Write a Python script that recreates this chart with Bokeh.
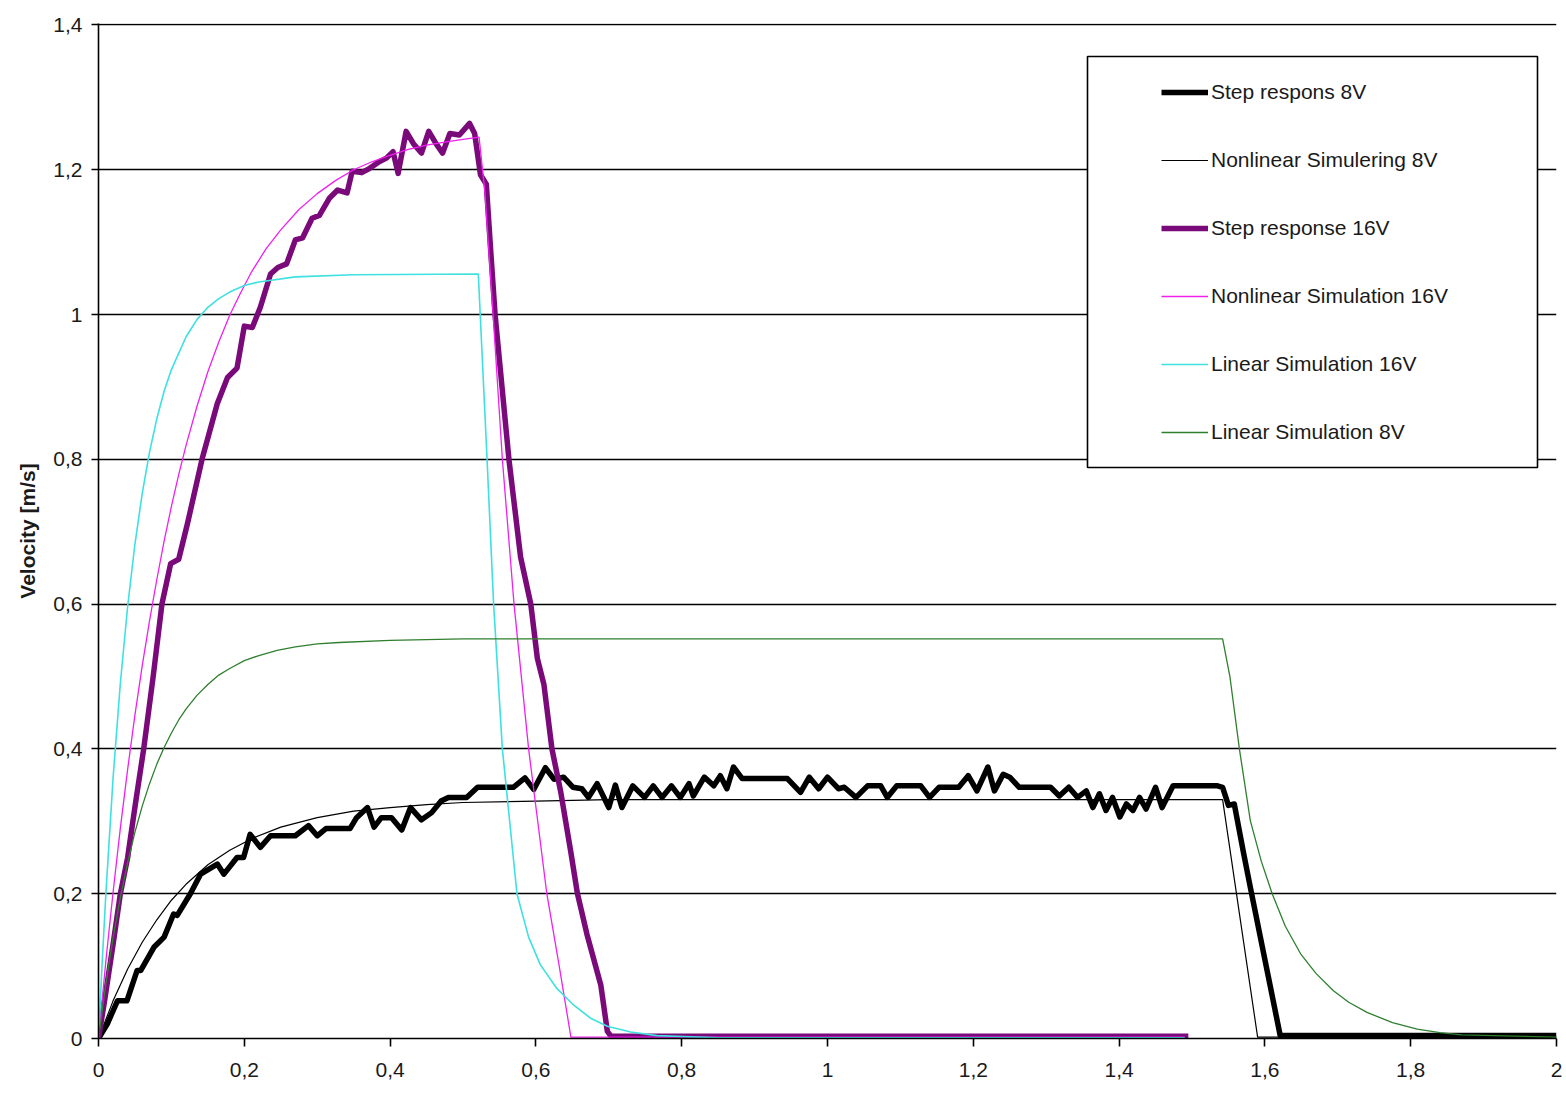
from bokeh.plotting import figure
from bokeh.models import (Legend, LegendItem, FixedTicker, BoxAnnotation, Range1d,
                          CustomJSTickFormatter)
from bokeh.embed import file_html
from bokeh.resources import INLINE

# ---------------- data (time [s], velocity [m/s]) ----------------
step_8v = [(0, 0), (0.012, 0.020), (0.026, 0.052), (0.039, 0.052), (0.053, 0.094), (0.058, 0.094),
           (0.076, 0.126), (0.090, 0.140), (0.103, 0.172), (0.108, 0.170), (0.126, 0.200),
           (0.140, 0.227), (0.148, 0.232), (0.163, 0.241), (0.172, 0.227), (0.190, 0.250),
           (0.199, 0.250), (0.208, 0.282), (0.222, 0.264), (0.236, 0.280), (0.270, 0.280),
           (0.288, 0.294), (0.300, 0.280), (0.312, 0.290), (0.345, 0.290), (0.354, 0.305),
           (0.369, 0.319), (0.378, 0.292), (0.388, 0.305), (0.402, 0.305), (0.416, 0.288),
           (0.428, 0.319), (0.443, 0.302), (0.457, 0.312), (0.470, 0.328), (0.480, 0.333),
           (0.505, 0.333), (0.520, 0.347), (0.569, 0.347), (0.585, 0.360), (0.597, 0.344),
           (0.613, 0.374), (0.625, 0.358), (0.638, 0.361), (0.651, 0.347), (0.663, 0.345),
           (0.672, 0.333), (0.684, 0.352), (0.700, 0.319), (0.709, 0.350), (0.718, 0.319),
           (0.733, 0.349), (0.749, 0.333), (0.761, 0.349), (0.773, 0.333), (0.786, 0.349),
           (0.798, 0.333), (0.810, 0.352), (0.816, 0.335), (0.831, 0.361), (0.844, 0.349),
           (0.853, 0.363), (0.862, 0.345), (0.871, 0.375), (0.883, 0.359), (0.945, 0.359),
           (0.963, 0.340), (0.975, 0.361), (0.988, 0.345), (1.000, 0.361), (1.015, 0.345),
           (1.023, 0.347), (1.039, 0.333), (1.055, 0.349), (1.073, 0.349), (1.082, 0.333),
           (1.095, 0.349), (1.128, 0.349), (1.140, 0.333), (1.153, 0.347), (1.180, 0.347),
           (1.193, 0.363), (1.205, 0.342), (1.220, 0.375), (1.229, 0.342), (1.241, 0.365),
           (1.250, 0.361), (1.263, 0.347), (1.306, 0.347), (1.318, 0.335), (1.331, 0.347),
           (1.343, 0.333), (1.355, 0.342), (1.364, 0.319), (1.373, 0.338), (1.382, 0.315),
           (1.391, 0.333), (1.401, 0.306), (1.410, 0.324), (1.419, 0.315), (1.428, 0.333),
           (1.437, 0.317), (1.450, 0.347), (1.459, 0.319), (1.474, 0.349), (1.535, 0.349),
           (1.542, 0.347), (1.550, 0.322), (1.558, 0.324), (1.571, 0.255), (1.580, 0.209),
           (1.603, 0.094), (1.621, 0.004), (2.000, 0.004)]

nonlin_8v = [(0, 0), (0.02, 0.052), (0.04, 0.096), (0.06, 0.133), (0.08, 0.164), (0.10, 0.191),
             (0.12, 0.213), (0.15, 0.240), (0.18, 0.260), (0.21, 0.276), (0.25, 0.292),
             (0.30, 0.305), (0.35, 0.314), (0.40, 0.319), (0.45, 0.323), (0.50, 0.326),
             (0.60, 0.328), (0.70, 0.330), (1.542, 0.330), (1.590, 0.002), (2.000, 0.002)]

step_16v = [(0, 0), (0.008, 0.050), (0.020, 0.130), (0.030, 0.200), (0.040, 0.250), (0.050, 0.320),
            (0.062, 0.400), (0.075, 0.500), (0.087, 0.600), (0.099, 0.656), (0.110, 0.662),
            (0.122, 0.711), (0.142, 0.800), (0.163, 0.877), (0.177, 0.913), (0.190, 0.926),
            (0.200, 0.984), (0.211, 0.982), (0.222, 1.010), (0.236, 1.056), (0.246, 1.065),
            (0.258, 1.070), (0.270, 1.103), (0.280, 1.106), (0.293, 1.133), (0.303, 1.137),
            (0.317, 1.161), (0.328, 1.172), (0.341, 1.168), (0.348, 1.198), (0.361, 1.196),
            (0.372, 1.202), (0.385, 1.211), (0.395, 1.216), (0.404, 1.225), (0.411, 1.195),
            (0.422, 1.253), (0.432, 1.236), (0.443, 1.223), (0.453, 1.253), (0.463, 1.236),
            (0.472, 1.223), (0.482, 1.250), (0.495, 1.248), (0.509, 1.264), (0.516, 1.250),
            (0.524, 1.193), (0.532, 1.180), (0.538, 1.088), (0.544, 1.000), (0.563, 0.800),
            (0.579, 0.665), (0.593, 0.600), (0.602, 0.525), (0.611, 0.489), (0.622, 0.400),
            (0.634, 0.341), (0.648, 0.257), (0.657, 0.200), (0.670, 0.144), (0.689, 0.074),
            (0.698, 0.010), (0.703, 0.003), (1.495, 0.003)]

nonlin_16v = [(0, 0), (0.01, 0.106), (0.02, 0.202), (0.03, 0.291), (0.04, 0.372), (0.05, 0.447),
              (0.06, 0.515), (0.07, 0.577), (0.08, 0.634), (0.09, 0.687), (0.10, 0.735),
              (0.11, 0.779), (0.12, 0.819), (0.135, 0.873), (0.15, 0.921), (0.165, 0.962),
              (0.18, 0.999), (0.195, 1.030), (0.21, 1.059), (0.23, 1.091), (0.25, 1.117),
              (0.275, 1.145), (0.30, 1.167), (0.325, 1.185), (0.35, 1.200), (0.375, 1.211),
              (0.40, 1.220), (0.425, 1.228), (0.45, 1.234), (0.475, 1.238), (0.50, 1.242),
              (0.522, 1.245), (0.530, 1.170), (0.540, 1.020), (0.554, 0.800), (0.570, 0.600),
              (0.590, 0.400), (0.615, 0.200), (0.632, 0.100), (0.648, 0.002), (1.490, 0.002)]

lin_16v = [(0, 0), (0.005, 0.104), (0.01, 0.198), (0.02, 0.360), (0.03, 0.491), (0.04, 0.597),
           (0.05, 0.683), (0.06, 0.753), (0.07, 0.810), (0.08, 0.856), (0.09, 0.894),
           (0.10, 0.924), (0.12, 0.969), (0.135, 0.993), (0.15, 1.010), (0.165, 1.022),
           (0.18, 1.031), (0.20, 1.040), (0.22, 1.045), (0.27, 1.052), (0.35, 1.055),
           (0.521, 1.056), (0.533, 0.800), (0.542, 0.600), (0.554, 0.400), (0.574, 0.200),
           (0.590, 0.140), (0.606, 0.102), (0.628, 0.070), (0.652, 0.046), (0.675, 0.028),
           (0.698, 0.017), (0.730, 0.009), (0.766, 0.004), (0.850, 0.001), (1.490, 0.001)]

lin_8v = [(0, 0), (0.01, 0.075), (0.02, 0.139), (0.03, 0.195), (0.04, 0.243), (0.05, 0.285),
          (0.06, 0.321), (0.07, 0.352), (0.08, 0.379), (0.09, 0.402), (0.10, 0.422),
          (0.11, 0.440), (0.12, 0.455), (0.135, 0.474), (0.15, 0.489), (0.165, 0.502),
          (0.18, 0.511), (0.20, 0.522), (0.22, 0.529), (0.245, 0.536), (0.27, 0.541),
          (0.30, 0.545), (0.33, 0.547), (0.40, 0.550), (0.50, 0.552), (1.542, 0.552),
          (1.552, 0.500), (1.565, 0.400), (1.580, 0.301), (1.595, 0.245), (1.610, 0.200),
          (1.628, 0.155), (1.649, 0.117), (1.670, 0.090), (1.694, 0.066), (1.715, 0.050),
          (1.740, 0.036), (1.775, 0.022), (1.809, 0.013), (1.840, 0.008), (1.870, 0.005),
          (2.000, 0.002)]

series_names = ["Step respons 8V", "Nonlinear Simulering 8V", "Step response 16V",
                "Nonlinear Simulation 16V", "Linear Simulation 16V", "Linear Simulation 8V"]

x_ticks = [0, 0.2, 0.4, 0.6, 0.8, 1.0, 1.2, 1.4, 1.6, 1.8, 2.0]
x_tick_labels = ["0", "0,2", "0,4", "0,6", "0,8", "1", "1,2", "1,4", "1,6", "1,8", "2"]
y_ticks = [0, 0.2, 0.4, 0.6, 0.8, 1.0, 1.2, 1.4]
y_tick_labels = ["0", "0,2", "0,4", "0,6", "0,8", "1", "1,2", "1,4"]

# ---------------- figure ----------------
FONT = "Liberation Sans"
p = figure(width=1566, height=1093, output_backend="svg", toolbar_location=None,
           x_range=Range1d(0, 2), y_range=Range1d(0, 1.402),
           min_border_left=98, min_border_right=10, min_border_top=23, min_border_bottom=55)
p.outline_line_color = None
p.background_fill_color = "white"
p.border_fill_color = "white"
p.xgrid.visible = False
p.ygrid.grid_line_color = "black"
p.ygrid.grid_line_width = 1.6
p.ygrid.ticker = FixedTicker(ticks=y_ticks)

fmt_code = """
const i = tv.findIndex(t => Math.abs(t - tick) < 1e-9);
return i >= 0 ? tl[i] : '';
"""
p.xaxis.ticker = FixedTicker(ticks=x_ticks)
p.xaxis.formatter = CustomJSTickFormatter(args=dict(tv=x_ticks, tl=x_tick_labels), code=fmt_code)
p.yaxis.ticker = FixedTicker(ticks=y_ticks)
p.yaxis.formatter = CustomJSTickFormatter(args=dict(tv=y_ticks, tl=y_tick_labels), code=fmt_code)

for ax in (p.xaxis[0], p.yaxis[0]):
    ax.axis_line_color = "black"
    ax.axis_line_width = 1.6
    ax.major_tick_line_color = "black"
    ax.major_tick_line_width = 1.6
    ax.major_tick_in = 0
    ax.minor_tick_line_color = None
    ax.major_label_text_font = FONT
    ax.major_label_text_font_size = "21px"
    ax.major_label_text_color = "#1a1a1a"

p.xaxis.major_tick_out = 8
p.xaxis.major_label_standoff = 16
p.yaxis.major_tick_out = 7
p.yaxis.major_label_standoff = 9

p.yaxis.axis_label = "Velocity [m/s]"
p.yaxis.axis_label_text_font = FONT
p.yaxis.axis_label_text_font_size = "21px"
p.yaxis.axis_label_text_font_style = "bold"
p.yaxis.axis_label_text_color = "#1a1a1a"
p.yaxis.axis_label_standoff = 11

def xy(pairs):
    return [a for a, _ in pairs], [b for _, b in pairs]

styles = [
    (step_8v, "black", 5.5),
    (nonlin_8v, "black", 1.2),
    (step_16v, "#7a0a7a", 5.5),
    (nonlin_16v, "#f020f0", 1.3),
    (lin_16v, "#3fe0e0", 1.6),
    (lin_8v, "#2f7f2f", 1.3),
]
renderers = []
for data, color, w in styles:
    xs, ys = xy(data)
    r = p.line(xs, ys, line_color=color, line_width=w, line_join="round")
    renderers.append(r)

# legend frame (white box with black border)
box = BoxAnnotation(left=989, right=1439, bottom=571, top=982,
                    left_units="screen", right_units="screen",
                    bottom_units="screen", top_units="screen",
                    fill_color="white", fill_alpha=1.0,
                    line_color="black", line_alpha=1.0, line_width=1.6)
p.add_layout(box)

legend = Legend(items=[LegendItem(label=n, renderers=[r]) for n, r in zip(series_names, renderers)],
                location=(1063, 594), padding=0, margin=0,
                spacing=44, label_height=24, glyph_height=24, glyph_width=47,
                label_standoff=3, border_line_alpha=0, background_fill_alpha=0,
                label_text_font=FONT, label_text_font_size="21px",
                label_text_color="#1a1a1a")
p.add_layout(legend)

open("out.html", "w").write(file_html(p, INLINE))
